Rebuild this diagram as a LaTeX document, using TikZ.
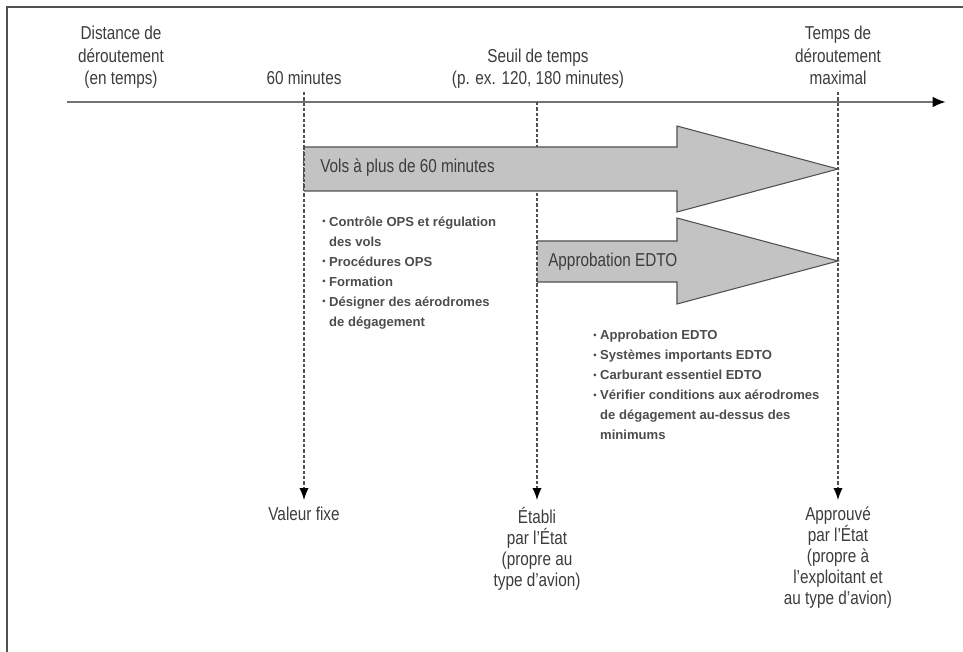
\documentclass[tikz,border=0pt]{standalone}
\usepackage{fontspec}
\setmainfont{Liberation Sans}
\newfontfamily\narrowsf[FakeStretch=0.82]{Liberation Sans}
\usetikzlibrary{arrows.meta}
\definecolor{arrowgray}{HTML}{C3C3C3}
\definecolor{edgegray}{HTML}{505050}
\definecolor{textgray}{HTML}{3C3C3C}
\newcommand{\blt}{\raisebox{1.3pt}{\scriptsize\textbullet}\ }

\begin{document}
\begin{tikzpicture}[x=0.75pt, y=-0.75pt,
  toplabel/.style={anchor=south, align=center, inner sep=0pt, text=textgray,
    font=\narrowsf\fontsize{14}{17}\selectfont},
  botlabel/.style={anchor=north, align=center, inner xsep=0pt, inner ysep=5pt,
    text=textgray, font=\narrowsf\fontsize{14}{15.75}\selectfont},
  bullets/.style={anchor=north west, align=left, inner sep=0pt, text=black!70,
    font=\bfseries\fontsize{9.8}{15}\selectfont},
  arrowtext/.style={anchor=west, inner sep=0pt, text=textgray,
    font=\narrowsf\fontsize{14}{17}\selectfont},
  bigarrow/.style={fill=arrowgray, draw=edgegray, line width=0.8pt},
  guide/.style={draw=edgegray, line width=0.9pt, dash pattern=on 2.5pt off 1.5pt},
  downtip/.style={-{Latex[length=9pt,width=7pt,color=black]}}]
  \useasboundingbox (0,0) rectangle (963,652);
  % frame
  \draw[edgegray, line width=1.6pt] (965,7) -- (7,7) -- (7,654);

  % time axis
  \coordinate (axL) at (67,102);
  \coordinate (axR) at (946,102);
  \draw[black!55, line width=1.8pt, -{Latex[length=10pt,width=8pt,color=black]}] (axL) -- (axR);

  % labels above the axis
  \node[toplabel] (dist) at (121,92) {Distance de\\déroutement\\(en temps)\strut};
  \node[toplabel] (t60) at (304,92) {60 minutes\strut};
  \node[toplabel] (tseuil) at (538,92) {Seuil de temps\\(p. ex. 120, 180 minutes)\strut};
  \node[toplabel] (tmax) at (838,92) {Temps de\\déroutement\\maximal\strut};

  % labels below
  \node[botlabel] (fixe) at (304,500) {Valeur fixe};
  \node[botlabel] (etat) at (537,500) {Établi\\par l’État\\(propre au\\type d’avion)};
  \node[botlabel] (appr) at (838,500) {Approuvé\\par l’État\\(propre à\\l’exploitant et\\au type d’avion)};

  % dashed guides
  \coordinate (s120) at (537,102);
  \draw[guide, downtip] (t60.south) -- (fixe.north);
  \draw[guide, downtip] (s120) -- (etat.north);
  \draw[guide, downtip] (tmax.south) -- (appr.north);

  % big arrows
  \filldraw[bigarrow] (304,191) -- (677,191) -- (677,212) -- (838,169) -- (677,126) -- (677,147) -- (304,147);
  \draw[guide] (304,147) -- (304,191);
  \filldraw[bigarrow] (537,282) -- (677,282) -- (677,304) -- (838,261) -- (677,218) -- (677,241) -- (537,241);
  \draw[guide] (537,241) -- (537,282);
  \node[arrowtext] (vols) at (320,168) {Vols à plus de 60 minutes};
  \node[arrowtext] (edto) at (548,262) {Approbation EDTO};

  % bullet lists
  \node[bullets] (ops) at (322,216) {\blt Contrôle OPS et régulation\\
    \hphantom{\blt}des vols\\
    \blt Procédures OPS\\
    \blt Formation\\
    \blt Désigner des aérodromes\\
    \hphantom{\blt}de dégagement};
  \node[bullets] (edtolist) at (593,330) {\blt Approbation EDTO\\
    \blt Systèmes importants EDTO\\
    \blt Carburant essentiel EDTO\\
    \blt Vérifier conditions aux aérodromes\\
    \hphantom{\blt}de dégagement au-dessus des\\
    \hphantom{\blt}minimums};
\end{tikzpicture}
\end{document}
